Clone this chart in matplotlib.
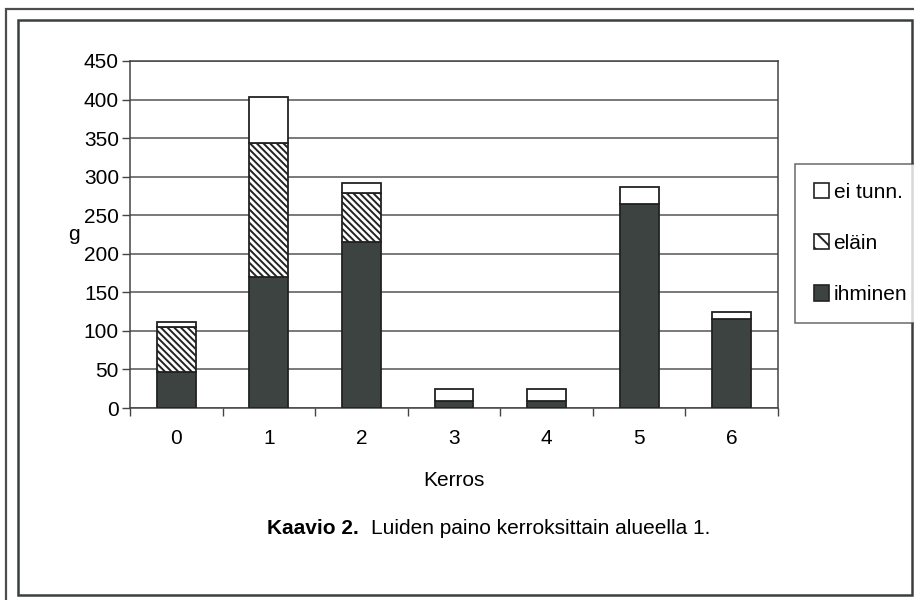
import matplotlib
matplotlib.use("Agg")
import matplotlib.pyplot as plt
from matplotlib.patches import Rectangle, Patch
import numpy as np

plt.rcParams["font.family"] = ["Liberation Sans", "DejaVu Sans"]
plt.rcParams["hatch.linewidth"] = 1.4

kerros = ["0", "1", "2", "3", "4", "5", "6"]
ihminen = [47, 170, 215, 9, 9, 264, 115]
elain = [58, 174, 64, 0, 0, 0, 0]
ei_tunn = [6, 59, 13, 15, 15, 23, 10]

W, H = 914, 600
FS = 15
fig = plt.figure(figsize=(W / 100, H / 100), dpi=100)

# double frame around the figure
fig.patches.append(Rectangle((6 / W, -0.05), 1.2, 1 - 9 / H + 0.05, transform=fig.transFigure,
                             fill=False, ec="#4a4f4e", lw=1.6))
fig.patches.append(Rectangle((18 / W, 1 - 595 / H), (912 - 18) / W, (595 - 20) / H,
                             transform=fig.transFigure, fill=False, ec="#3a3f3e", lw=1.8))

ax = fig.add_axes([130 / W, 1 - 408 / H, 648 / W, 347 / H])
x = np.arange(len(kerros))
bw = 0.42
dark = "#3d4341"
hatch = "\\" * 5
ax.bar(x, ihminen, bw, color=dark, edgecolor="#222", lw=1.3, zorder=3, label="ihminen")
ax.bar(x, elain, bw, bottom=ihminen, color="white", edgecolor="#222", hatch=hatch,
       lw=1.3, zorder=3, label="eläin")
bot2 = [a + b for a, b in zip(ihminen, elain)]
ax.bar(x, ei_tunn, bw, bottom=bot2, color="white", edgecolor="#222", lw=1.3, zorder=3,
       label="ei tunn.")

ax.set_xlim(-0.5, len(kerros) - 0.5)
ax.set_ylim(0, 450)
ax.set_yticks(range(0, 451, 50))
ax.yaxis.grid(True, color="#555", lw=1.1, zorder=0)
ax.set_xticks(x)
ax.set_xticklabels(kerros)
ax.set_xticks(np.arange(-0.5, len(kerros)), minor=True)
ax.tick_params(axis="x", which="major", length=0, pad=15, labelsize=FS)
ax.tick_params(axis="x", which="minor", length=6, width=1, color="#444")
ax.tick_params(axis="y", length=6, width=1, color="#444", pad=2, labelsize=FS)
for s in ax.spines.values():
    s.set_color("#444")
    s.set_linewidth(1.1)

fig.text(74 / W, 1 - 234 / H, "g", fontsize=FS, ha="center", va="center")
fig.text(454 / W, 1 - 481 / H, "Kerros", fontsize=FS, ha="center", va="center")
fig.text(359 / W, 1 - 528 / H, "Kaavio 2.", fontsize=FS, fontweight="bold", ha="right",
         va="center")
fig.text(371 / W, 1 - 528 / H, "Luiden paino kerroksittain alueella 1.", fontsize=FS,
         ha="left", va="center")

handles = [Patch(fc="white", ec="#222", lw=1.2),
           Patch(fc="white", ec="#222", hatch="\\\\", lw=1.2),
           Patch(fc=dark, ec="#222", lw=1.2)]
labels = ["ei tunn.", "eläin", "ihminen"]
leg = fig.legend(handles, labels, loc="upper left", bbox_to_anchor=(795 / W, 1 - 164 / H),
                 fontsize=FS, frameon=True, fancybox=False, edgecolor="#444",
                 handlelength=0.75, handleheight=0.75, handletextpad=0.2,
                 labelspacing=1.55, borderpad=0.9, borderaxespad=0)
leg.get_frame().set_linewidth(1.1)

fig.savefig("out.png", dpi=100)
